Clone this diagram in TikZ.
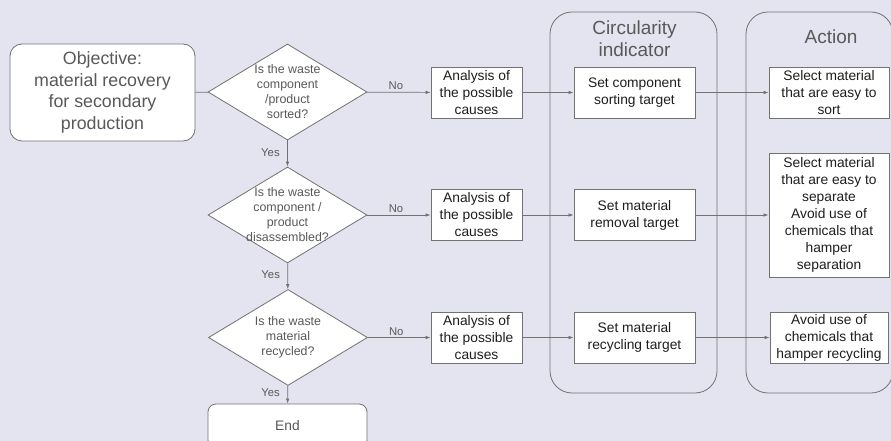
\documentclass[tikz,border=0pt]{standalone}
\usepackage{fontspec}
\setmainfont{Liberation Sans}
\usetikzlibrary{shapes.geometric,arrows.meta}

\definecolor{bgcol}{HTML}{E4E4F0}
\definecolor{linecol}{HTML}{727272}
\definecolor{greytext}{HTML}{595959}
\definecolor{darktext}{HTML}{1E1E1E}

\tikzset{
  box/.style={draw=linecol,fill=white,line width=0.8pt,inner sep=2pt,align=center,
    text=darktext,font=\fontsize{13.8}{17}\selectfont},
  roundbox/.style={draw=linecol,fill=white,line width=0.8pt,rounded corners=12pt,align=center,
    text=greytext,font=\fontsize{17.8}{21.5}\selectfont},
  decision/.style={diamond,draw=linecol,fill=white,line width=0.8pt,inner sep=0pt,
    minimum width=159pt,minimum height=96pt},
  qtext/.style={align=center,text=greytext,font=\fontsize{12.4}{15}\selectfont},
  lane/.style={draw=linecol,line width=0.8pt,rounded corners=22pt,
    minimum width=167pt,minimum height=381pt},
  lanetitle/.style={align=center,text=greytext,font=\fontsize{19}{22}\selectfont},
  answer/.style={text=greytext,font=\fontsize{11.3}{13}\selectfont,inner sep=3pt},
  flow/.style={draw=linecol,line width=0.7pt,-{Latex[length=5pt,width=3.5pt]}}
}

\begin{document}
\begin{tikzpicture}[x=1pt,y=-1pt]
  \useasboundingbox (0,0) rectangle (891,441);
  \clip (0,0) rectangle (891,441);
  \fill[bgcol] (0,0) rectangle (891,441);

  \node[lane] (indicator) at (633.5,202.5) {};
  \node[lane,minimum width=147pt] (action) at (819.5,202.5) {};
  \node[lanetitle] (indicatortitle) at (634.5,38.5) {Circularity\\indicator};
  \node[lanetitle] (actiontitle) at (831,37) {Action};

  \node[roundbox,minimum width=185pt,minimum height=97pt] (objective) at (102.5,92.5)
    {Objective:\\material recovery\\for secondary\\production};

  \node[decision,label={[qtext]center:Is the waste\\component\\/product\\sorted?}] (q1) at (287.5,92) {};
  \node[decision,label={[qtext]center:Is the waste\\component /\\product\\disassembled?}] (q2) at (287.5,215) {};
  \node[decision,label={[qtext]center:Is the waste\\material\\recycled?}] (q3) at (288,337.5) {};

  \node[roundbox,rounded corners=8pt,minimum width=159pt,minimum height=44pt,
    font=\fontsize{13.8}{17}\selectfont] (end) at (287.5,426) {End};

  \node[box,minimum width=91pt,minimum height=51pt] (cause1) at (476.5,92.5) {Analysis of\\the possible\\causes};
  \node[box,minimum width=91pt,minimum height=51pt] (cause2) at (476.5,215) {Analysis of\\the possible\\causes};
  \node[box,minimum width=91pt,minimum height=51pt] (cause3) at (476.5,337.5) {Analysis of\\the possible\\causes};

  \node[box,minimum width=121pt,minimum height=51pt] (target1) at (634.5,92.5) {Set component\\sorting target};
  \node[box,minimum width=121pt,minimum height=51pt] (target2) at (634.5,215) {Set material\\removal target};
  \node[box,minimum width=121pt,minimum height=51pt] (target3) at (634.5,337.5) {Set material\\recycling target};

  \node[box,minimum width=120pt,minimum height=51pt] (act1) at (829,92.5) {Select material\\that are easy to\\sort};
  \node[box,minimum width=120pt,minimum height=124pt] (act2) at (829,215)
    {Select material\\that are easy to\\separate\\Avoid use of\\chemicals that\\hamper\\separation};
  \node[box,minimum width=118pt,minimum height=51pt] (act3) at (829,337.5) {Avoid use of\\chemicals that\\hamper recycling};

  \draw[draw=linecol,line width=0.7pt] (objective) -- (q1);
  \draw[flow] (q1) -- node[answer,above=-1pt,xshift=-3pt] {No} (cause1);
  \draw[flow] (q2) -- node[answer,above=-1pt,xshift=-3pt] {No} (cause2);
  \draw[flow] (q3) -- node[answer,above=-1pt,xshift=-3pt] {No} (cause3);
  \draw[flow] (q1) -- node[answer,left=4.5pt,yshift=1pt] {Yes} (q2);
  \draw[flow] (q2) -- node[answer,left=4.5pt,yshift=2pt] {Yes} (q3);
  \draw[flow] (q3) -- node[answer,left=4.5pt,yshift=2pt] {Yes} (end);
  \draw[flow] (cause1) -- (target1);
  \draw[flow] (cause2) -- (target2);
  \draw[flow] (cause3) -- (target3);
  \draw[flow] (target1) -- (act1);
  \draw[flow] (target2) -- (act2);
  \draw[flow] (target3) -- (act3);
\end{tikzpicture}
\end{document}
